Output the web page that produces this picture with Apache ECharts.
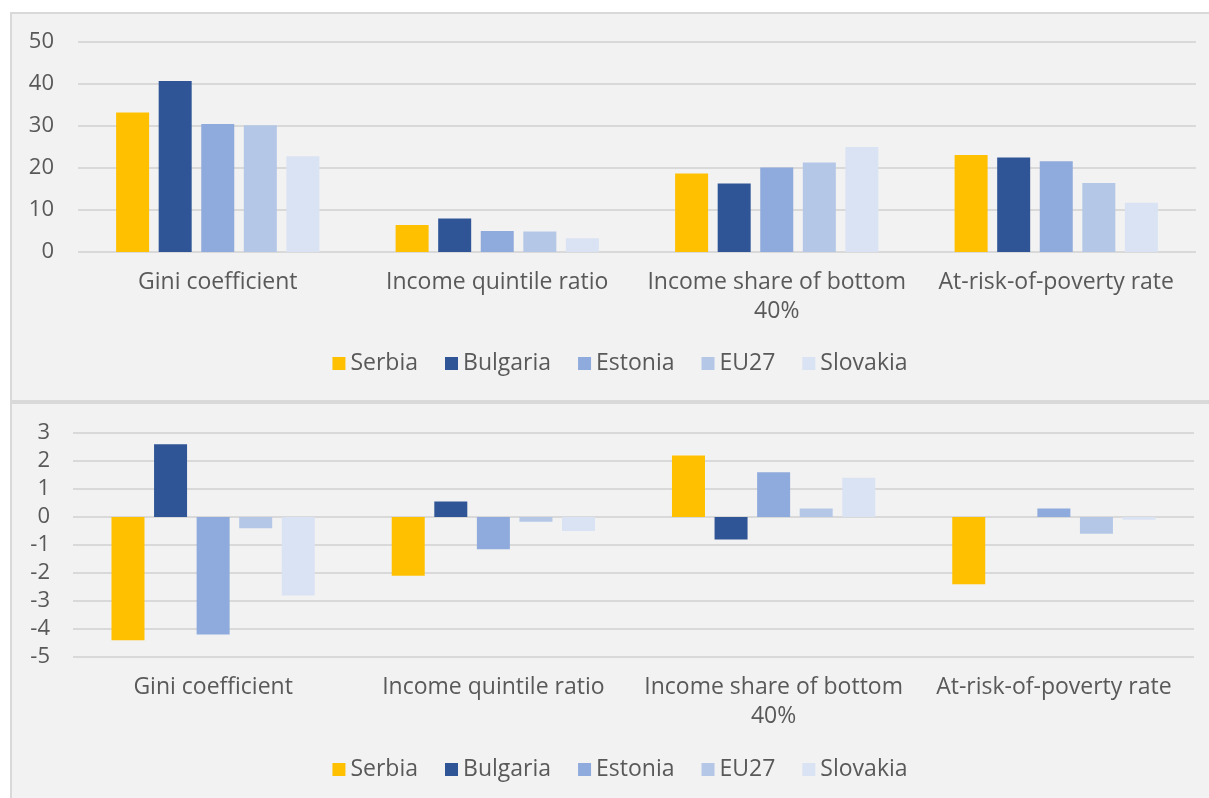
<!DOCTYPE html>
<html>
<head>
<meta charset="utf-8">
<script src="https://cdn.jsdelivr.net/npm/echarts@6/dist/echarts.min.js"></script>
<style>
  html, body { margin: 0; padding: 0; background: #ffffff; width: 1209px; height: 798px; overflow: hidden; }
  .panel { position: absolute; box-sizing: border-box; border: 2px solid #d9d9d9; background: #f2f2f2; }
  #p1 { left: 10px; top: 12px; width: 1220px; height: 390px; }
  #p2 { left: 10px; top: 402px; width: 1220px; height: 410px; }
  .chart { position: absolute; left: 0; top: 0; width: 1216px; }
  #c1 { height: 386px; }
  #c2 { height: 406px; }
</style>
</head>
<body>
<div class="panel" id="p1"><div class="chart" id="c1"></div></div>
<div class="panel" id="p2"><div class="chart" id="c2"></div></div>
<script>
const categories = ["Gini coefficient", "Income quintile ratio", "Income share of bottom 40%", "At-risk-of-poverty rate"];
const countries = ["Serbia", "Bulgaria", "Estonia", "EU27", "Slovakia"];
const colors = ["#FFC000", "#2F5597", "#8FAADC", "#B4C7E7", "#DAE3F3"];

// Top panel: levels
const levelSerbia   = [33.2, 6.4, 18.7, 23.1];
const levelBulgaria = [40.7, 8.0, 16.3, 22.5];
const levelEstonia  = [30.5, 5.0, 20.1, 21.6];
const levelEU27     = [30.2, 4.9, 21.3, 16.4];
const levelSlovakia = [22.8, 3.3, 25.0, 11.7];

// Bottom panel: changes
const changeSerbia   = [-4.4, -2.1, 2.2, -2.4];
const changeBulgaria = [2.6, 0.55, -0.8, 0.0];
const changeEstonia  = [-4.2, -1.15, 1.6, 0.3];
const changeEU27     = [-0.4, -0.17, 0.3, -0.6];
const changeSlovakia = [-2.8, -0.5, 1.4, -0.1];

const topTicks = { min: 0, max: 50, interval: 10 };
const bottomTicks = { min: -5, max: 3, interval: 1 };

const FONT = "Open Sans";
const TXT = "#595959";
const GRID = "#d9d9d9";

function buildOption(seriesData, ticks, grid, legendTop, yMargin) {
  return {
    animation: false,
    textStyle: { fontFamily: FONT },
    grid: grid,
    legend: {
      data: countries,
      left: 'center',
      top: legendTop,
      itemWidth: 13,
      itemHeight: 13,
      itemGap: 27,
      icon: 'rect',
      textStyle: { fontFamily: FONT, fontSize: 23, color: TXT }
    },
    xAxis: {
      type: 'category',
      data: categories,
      axisLine: { show: false, onZero: false },
      axisTick: { show: false },
      axisLabel: {
        fontFamily: FONT, fontSize: 23, color: TXT, margin: 16, lineHeight: 29,
        interval: 0,
        formatter: v => v.replace('bottom 40%', 'bottom\n40%')
      }
    },
    yAxis: {
      type: 'value',
      min: ticks.min, max: ticks.max, interval: ticks.interval,
      axisLine: { show: false },
      axisTick: { show: false },
      splitLine: { lineStyle: { color: GRID, width: 2 } },
      axisLabel: { fontFamily: FONT, fontSize: 22, color: TXT, margin: yMargin }
    },
    series: countries.map((c, i) => ({
      name: c,
      type: 'bar',
      data: seriesData[i],
      barWidth: 33,
      barGap: '29%',
      itemStyle: { color: colors[i] }
    }))
  };
}

const c1 = echarts.init(document.getElementById('c1'));
c1.setOption(buildOption(
  [levelSerbia, levelBulgaria, levelEstonia, levelEU27, levelSlovakia],
  topTicks,
  { left: 66, top: 28, width: 1118, height: 210 },
  333, 24
));

const c2 = echarts.init(document.getElementById('c2'));
c2.setOption(buildOption(
  [changeSerbia, changeBulgaria, changeEstonia, changeEU27, changeSlovakia],
  bottomTicks,
  { left: 61, top: 29, width: 1121, height: 224 },
  349, 23
));
</script>
</body>
</html>
